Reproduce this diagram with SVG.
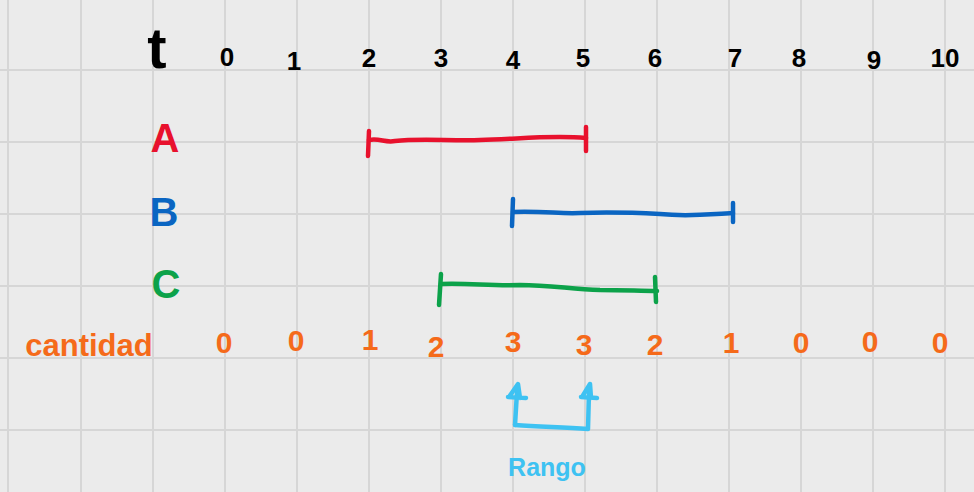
<svg xmlns="http://www.w3.org/2000/svg" width="974" height="492" viewBox="0 0 974 492">
<style>
.grid{stroke:#d6d6d6;stroke-width:2}
.axis{font-family:"Liberation Sans",Arial,sans-serif;font-size:26px;font-weight:bold;fill:#000;text-anchor:middle}
.lbl{font-family:"Liberation Sans",Arial,sans-serif;font-size:40px;font-weight:bold;text-anchor:middle}
.cnt{font-family:"Liberation Sans",Arial,sans-serif;font-size:30px;font-weight:bold;fill:#f56a1a;text-anchor:middle}
.seg{fill:none;stroke-width:4.5;stroke-linecap:round;stroke-linejoin:round}
</style>
<rect width="974" height="492" fill="#ebebeb"/>
<g id="grid">
<g class="grid">
<line x1="8" y1="0" x2="8" y2="492"/><line x1="81" y1="0" x2="81" y2="492"/><line x1="153" y1="0" x2="153" y2="492"/><line x1="225" y1="0" x2="225" y2="492"/><line x1="297" y1="0" x2="297" y2="492"/><line x1="369" y1="0" x2="369" y2="492"/><line x1="441" y1="0" x2="441" y2="492"/><line x1="513" y1="0" x2="513" y2="492"/><line x1="585" y1="0" x2="585" y2="492"/><line x1="657" y1="0" x2="657" y2="492"/><line x1="729" y1="0" x2="729" y2="492"/><line x1="801" y1="0" x2="801" y2="492"/><line x1="873" y1="0" x2="873" y2="492"/><line x1="945" y1="0" x2="945" y2="492"/>
<line x1="0" y1="70" x2="974" y2="70"/><line x1="0" y1="142" x2="974" y2="142"/><line x1="0" y1="214" x2="974" y2="214"/><line x1="0" y1="286" x2="974" y2="286"/><line x1="0" y1="358" x2="974" y2="358"/><line x1="0" y1="430" x2="974" y2="430"/>
</g>
</g>
<g id="axis">
<text x="157" y="68" style="font-family:'Liberation Sans',Arial,sans-serif;font-size:58px;font-weight:bold;fill:#000;text-anchor:middle">t</text>
<text class="axis" x="227" y="66">0</text>
<text class="axis" x="294" y="70">1</text>
<text class="axis" x="369" y="67">2</text>
<text class="axis" x="441" y="67">3</text>
<text class="axis" x="513" y="69">4</text>
<text class="axis" x="583" y="67">5</text>
<text class="axis" x="655" y="67">6</text>
<text class="axis" x="735" y="67">7</text>
<text class="axis" x="799" y="67">8</text>
<text class="axis" x="874" y="69">9</text>
<text class="axis" x="945" y="67">10</text>
</g>
<g id="rowA">
<text class="lbl" x="165" y="152" fill="#e8112d">A</text>
</g>
<g id="rowB">
<text class="lbl" x="164" y="226" fill="#0a65c2">B</text>
</g>
<g id="rowC">
<text class="lbl" x="166" y="298" fill="#0ca24a">C</text>
</g>
<g id="connectors">
<g stroke="#e8112d" class="seg">
<path d="M369,140 C380,138 385,143 395,141 C420,138 450,141 480,140 C520,139 550,135 586,138"/>
<path d="M369,131 L368,156"/>
<path d="M586,127 L586,151"/>
</g>
<g stroke="#0a65c2" class="seg">
<path d="M513,212 C545,211 560,214 580,213 C610,212 640,213 660,214 C690,217 710,214 733,213"/>
<path d="M513,199 L512,226"/>
<path d="M733,203 L733,222"/>
</g>
<g stroke="#0ca24a" class="seg">
<path d="M441,284 C470,283 490,286 520,285 C550,285 570,289 600,290 C625,290 640,291 657,291"/>
<path d="M441,274 L439,305"/>
<path d="M655,277 L656,302"/>
</g>
<g stroke="#3ec2f2" class="seg">
<path d="M515,425 L517,392"/>
<path d="M509,397 L518,384 L520,398 M508,397 L526,398"/>
<path d="M515,425 C540,427 560,427 588,429 L589,392"/>
<path d="M582,397 L590,384 L591,398 M581,397 L597,398"/>
</g>
</g>
<g id="cantidad">
<text class="cnt" x="89" y="356" style="font-size:31px">cantidad</text>
<text class="cnt" x="224" y="353">0</text>
<text class="cnt" x="296" y="351">0</text>
<text class="cnt" x="370" y="350">1</text>
<text class="cnt" x="436" y="357">2</text>
<text class="cnt" x="513" y="352">3</text>
<text class="cnt" x="584" y="355">3</text>
<text class="cnt" x="655" y="355">2</text>
<text class="cnt" x="731" y="353">1</text>
<text class="cnt" x="801" y="353">0</text>
<text class="cnt" x="870" y="352">0</text>
<text class="cnt" x="940" y="353">0</text>
</g>
<g id="rango">
<text x="547" y="476" style="font-family:'Liberation Sans',Arial,sans-serif;font-size:25px;font-weight:bold;fill:#3ec2f2;text-anchor:middle">Rango</text>
</g>
</svg>
